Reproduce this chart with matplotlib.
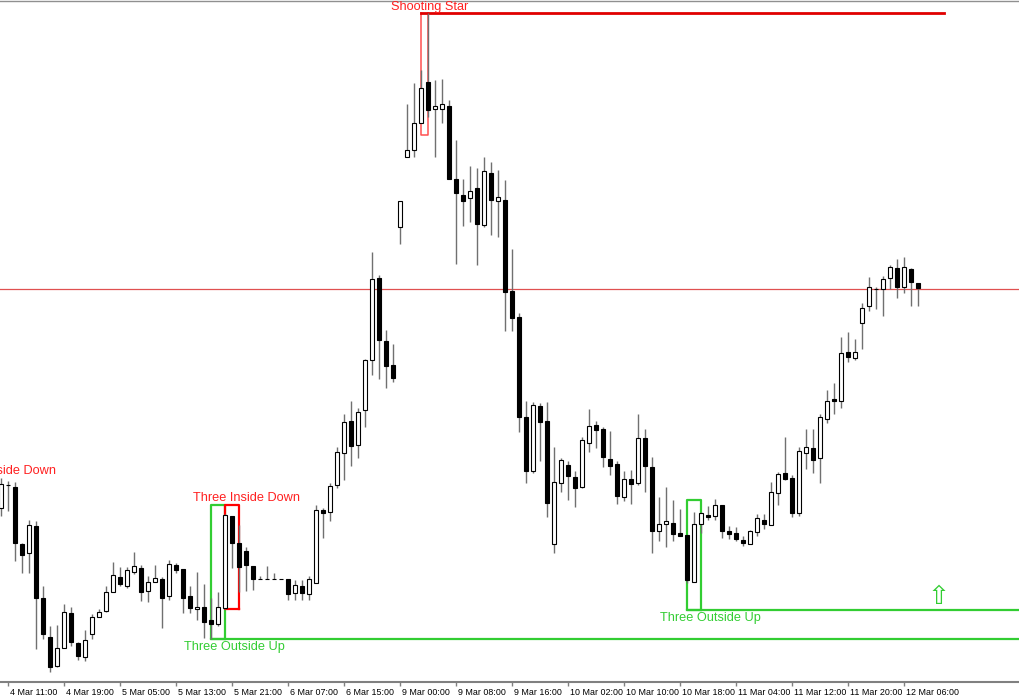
import matplotlib
matplotlib.use("Agg")
import matplotlib.pyplot as plt
from matplotlib.transforms import ScaledTranslation

# hourly bars, 4 Mar 10:00 .. 12 Mar 07:00 (price in chart points)
opens = [192, 215, 213, 156, 147, 174, 102, 63, 34, 52,
         87, 57, 43, 66, 83, 89, 108, 123, 114, 128,
         132, 109, 118, 121, 104, 135, 131, 104, 91, 93,
         80, 76, 92, 184, 157, 149, 134, 121, 121, 121,
         121, 121, 107, 114, 106, 117, 190, 188, 215, 247,
         279, 255, 290, 340, 422, 359, 335, 473, 543, 550,
         577, 618, 591, 591, 594, 521, 505, 502, 512, 475,
         527, 499, 500, 409, 383, 283, 229, 294, 279, 156,
         217, 235, 223, 213, 257, 275, 271, 241, 236, 203,
         221, 217, 262, 233, 169, 176, 177, 167, 165, 118,
         176, 185, 184, 195, 169, 167, 160, 156, 168, 180,
         175, 207, 227, 222, 187, 247, 252, 242, 281, 301,
         299, 348, 342, 377, 394, 411, 411, 422, 432, 413,
         431, 417]
highs = [222, 219, 218, 157, 180, 179, 114, 74, 75, 96,
         93, 58, 70, 86, 91, 114, 138, 133, 133, 148,
         135, 124, 135, 123, 140, 137, 131, 114, 128, 116,
         102, 108, 186, 184, 175, 153, 134, 124, 134, 127,
         121, 121, 120, 120, 124, 195, 192, 217, 253, 286,
         299, 292, 341, 448, 425, 370, 356, 499, 596, 617,
         630, 687, 620, 621, 600, 560, 521, 534, 532, 543,
         538, 530, 520, 451, 387, 299, 298, 297, 298, 253,
         242, 239, 229, 263, 291, 279, 273, 269, 239, 229,
         230, 286, 271, 243, 203, 213, 200, 191, 165, 188,
         188, 194, 201, 195, 174, 173, 164, 170, 186, 186,
         218, 228, 263, 225, 253, 271, 271, 286, 310, 317,
         363, 368, 361, 397, 423, 413, 424, 435, 441, 443,
         432, 417]
lows = [184, 189, 139, 127, 127, 51, 61, 28, 33, 52,
        54, 40, 39, 61, 83, 88, 108, 114, 112, 126,
        99, 98, 118, 72, 100, 127, 87, 87, 80, 62,
        61, 74, 91, 132, 108, 109, 110, 121, 121, 121,
        121, 100, 100, 100, 100, 117, 162, 179, 212, 220,
        234, 242, 273, 325, 321, 312, 318, 456, 543, 543,
        577, 583, 543, 577, 521, 436, 474, 478, 435, 473,
        465, 463, 369, 369, 268, 217, 227, 239, 183, 147,
        208, 200, 193, 212, 248, 252, 233, 225, 196, 199,
        196, 215, 208, 147, 159, 153, 159, 164, 117, 118,
        167, 180, 180, 162, 161, 159, 154, 156, 164, 171,
        175, 195, 220, 183, 184, 231, 227, 217, 277, 286,
        292, 338, 340, 351, 389, 391, 384, 411, 402, 407,
        394, 394]
closes = [216, 215, 157, 145, 175, 102, 66, 33, 52, 88,
          58, 44, 60, 83, 88, 108, 125, 116, 130, 134,
          108, 118, 122, 102, 136, 130, 102, 92, 93, 78,
          76, 93, 185, 157, 133, 135, 121, 121, 121, 121,
          121, 106, 115, 107, 121, 190, 187, 214, 248, 278,
          254, 288, 340, 421, 360, 334, 322, 499, 550, 577,
          612, 590, 594, 596, 521, 507, 499, 509, 476, 529,
          500, 503, 408, 382, 283, 229, 295, 278, 197, 218,
          240, 224, 212, 260, 274, 270, 243, 234, 204, 221,
          216, 262, 234, 169, 176, 179, 166, 164, 120, 176,
          187, 183, 195, 169, 166, 161, 157, 169, 182, 176,
          208, 226, 221, 187, 249, 253, 240, 283, 299, 299,
          347, 343, 348, 392, 413, 411, 421, 433, 413, 433,
          418, 412]

tick_labels = ["4 Mar 11:00", "4 Mar 19:00", "5 Mar 05:00", "5 Mar 13:00",
               "5 Mar 21:00", "6 Mar 07:00", "6 Mar 15:00", "9 Mar 00:00",
               "9 Mar 08:00", "9 Mar 16:00", "10 Mar 02:00", "10 Mar 10:00",
               "10 Mar 18:00", "11 Mar 04:00", "11 Mar 12:00", "11 Mar 20:00",
               "12 Mar 06:00"]
tick_bars = list(range(1, 130, 8))

# detected patterns: name, colour, first bar, last bar, top, bottom
pattern_names = ["Three Outside Up", "Three Inside Down", "Shooting Star", "Three Outside Up"]
pattern_colors = ["#32cd32", "#ff0000", "#ff0000", "#32cd32"]
pattern_start = [30, 32, 60, 98]
pattern_end = [32, 34, 61, 100]
pattern_top = [195, 195, 687, 200]
pattern_bottom = [61, 91, 565, 90]

level_line = 411

n = len(opens)
idx = list(range(n))

fig = plt.figure(figsize=(10.2, 7), dpi=100)
ax = fig.add_axes([0, 18 / 700, 1, 681 / 700])
ax.set_xlim(-1 / 7, 1019 / 7)
ax.set_ylim(18, 699)

# horizontal level
ax.axhline(level_line, color="#e05050", lw=0.9, zorder=1)

# pattern boxes
for i in range(len(pattern_names)):
    c = pattern_colors[i]
    x0, x1 = pattern_start[i], pattern_end[i]
    top, bot = pattern_top[i], pattern_bottom[i]
    lw = 1.6
    if pattern_names[i] == "Shooting Star":
        ax.plot([x0, x0, x1, x1], [top, bot, bot, top], color="#ff5050", lw=1.1, zorder=1)
        ax.plot([x0, 134.7], [top, top], color="#e00000", lw=2, zorder=1)
    else:
        ax.plot([x1, x0, x0, x1, x1], [bot, bot, top, top, bot], color=c, lw=lw, zorder=1)
        if pattern_names[i] == "Three Outside Up":
            ax.plot([x0, 146], [bot, bot], color=c, lw=lw, zorder=1)

# candles
ax.vlines(idx, lows, highs, color="#707070", lw=1, zorder=2)
heights = [c - o for o, c in zip(opens, closes)]
faces = ["white" if c > o else "black" for o, c in zip(opens, closes)]
ax.bar(idx, heights, bottom=opens, width=0.62, color=faces,
       edgecolor="black", linewidth=0.8, zorder=3)

# pattern labels
lab = dict(fontsize=9.2, family="Liberation Sans", ha="center", va="center")
ax.text(0.2, 229, "Three Inside Down", color="#ff2020", **lab)
ax.text(35.1, 202, "Three Inside Down", color="#ff2020", **lab)
ax.text(33.3, 53, "Three Outside Up", color="#32cd32", **lab)
ax.text(61.3, 693, "Shooting Star", color="#ff2020", **lab)
ax.text(101.3, 82, "Three Outside Up", color="#32cd32", **lab)
ax.text(134, 103, "\u21e7", color="#32cd32", fontsize=19, family="DejaVu Sans",
        ha="center", va="center")

# axes styling
for s in ["left", "right"]:
    ax.spines[s].set_visible(False)
ax.spines["top"].set_color("#909090")
ax.spines["top"].set_linewidth(1)
ax.spines["bottom"].set_color("#808080")
ax.spines["bottom"].set_linewidth(1.5)
ax.set_yticks([])
ax.set_xticks(tick_bars)
ax.set_xticklabels(tick_labels, fontsize=6.4, family="Liberation Sans")
ax.tick_params(axis="x", direction="out", length=3, width=1, color="#808080", pad=1)
shift = ScaledTranslation(2 / 100, 0, fig.dpi_scale_trans)
for t in ax.get_xticklabels():
    t.set_horizontalalignment("left")
    t.set_transform(t.get_transform() + shift)

fig.savefig("out.png", dpi=100)
